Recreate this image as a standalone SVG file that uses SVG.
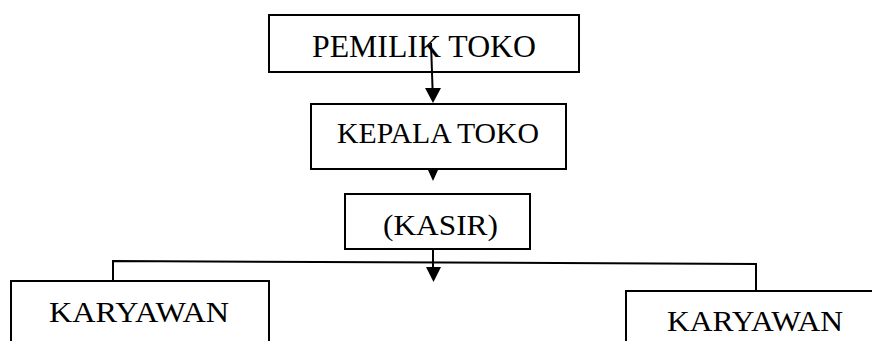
<svg xmlns="http://www.w3.org/2000/svg" width="872" height="341" viewBox="0 0 872 341">
<style>
.box{fill:#fff;stroke:#000;stroke-width:2}
.lbl{font-family:"Liberation Serif","Times New Roman",serif;fill:#000}
.ln{stroke:#000;stroke-width:2;fill:none}
</style>
<rect width="872" height="341" fill="#fff"/>
<g id="pemilik">
<rect class="box" x="269" y="15" width="310" height="57"/>
<text class="lbl" x="312" y="57" font-size="32" textLength="224" lengthAdjust="spacingAndGlyphs">PEMILIK TOKO</text>
</g>
<g id="kepala">
<rect class="box" x="311" y="104" width="255" height="65"/>
<text class="lbl" x="337" y="143" font-size="29" textLength="202" lengthAdjust="spacingAndGlyphs">KEPALA TOKO</text>
</g>
<g id="kasir">
<rect class="box" x="345" y="194" width="185" height="55"/>
<text class="lbl" x="383" y="235" font-size="29" textLength="115" lengthAdjust="spacingAndGlyphs">(KASIR)</text>
</g>
<g id="karyawan1">
<rect class="box" x="11" y="281" width="258" height="70"/>
<text class="lbl" x="49" y="322" font-size="29" textLength="180" lengthAdjust="spacingAndGlyphs">KARYAWAN</text>
</g>
<g id="karyawan2">
<rect class="box" x="626" y="291" width="260" height="60"/>
<text class="lbl" x="667" y="331" font-size="29" textLength="176" lengthAdjust="spacingAndGlyphs">KARYAWAN</text>
</g>
<g id="connectors">
<line class="ln" x1="431" y1="43" x2="432.6" y2="90"/>
<polygon points="425,88 441,88 433,103" fill="#000"/>
<polygon points="428,170 438,170 433,181" fill="#000"/>
<line class="ln" x1="433" y1="249" x2="433" y2="268"/>
<polygon points="426,267 441,267 433.5,282" fill="#000"/>
<polyline class="ln" points="113,281 113,261 756,264 756,291"/>
</g>
</svg>
